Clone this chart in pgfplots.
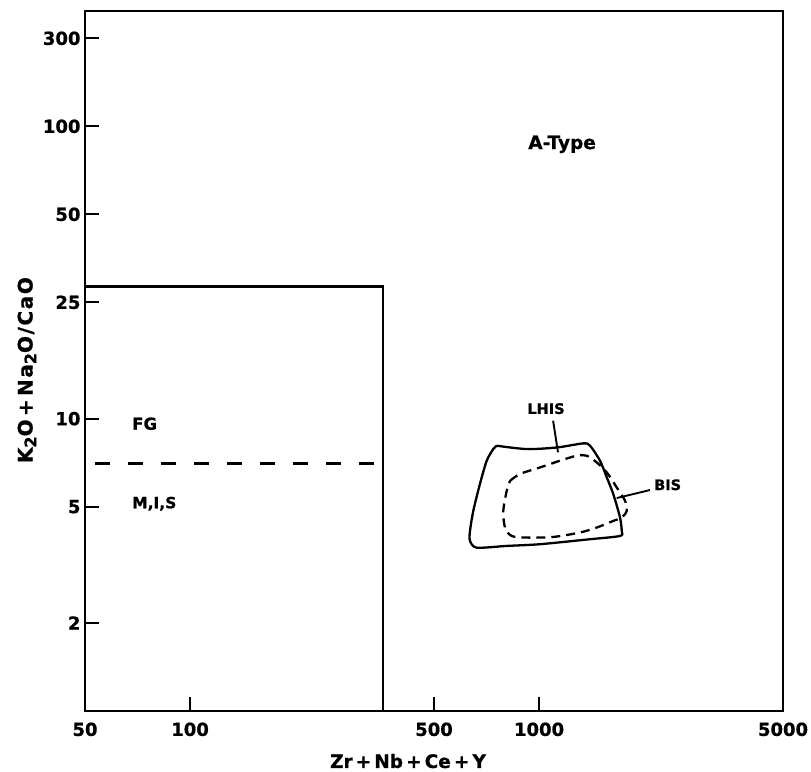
\documentclass[border=0pt]{standalone}
\usepackage{pgfplots}
\pgfplotsset{compat=1.18}
\usepackage{fontspec}
\setmainfont{DejaVu Sans}[BoldFeatures={FakeBold=0.8}]
\newcommand\sub[1]{\raisebox{-0.35ex}{\fontsize{16}{16}\selectfont #1}}
\begin{document}
\begin{tikzpicture}
\begin{axis}[
  scale only axis, width=698pt, height=700pt,
  xmode=log, ymode=log,
  xmin=50, xmax=5000, ymin=1, ymax=248,
  axis line style={line width=2.6pt},
  tick style={line width=2.2pt, black},
  major tick length=14pt,
  xtick pos=bottom, ytick pos=left,
  xminorticks=false, yminorticks=false,
  xtick={50,100,500,1000,5000}, xticklabels={50,100,500,1000,5000},
  ytick={2,5,10,25,50,100,200}, yticklabels={2,5,10,25,50,100,300},
  /pgf/number format/assume math mode=true,
  ticklabel style={font=\fontsize{18}{18}\selectfont\bfseries},
  xticklabel style={yshift=-8pt},
  yticklabel style={xshift=-1pt},
  xlabel={Zr\,+\,Nb\,+\,Ce\,+\,Y},
  xlabel style={at={(axis description cs:0.4628,-0.0715)}, anchor=center, inner sep=0pt,
    font=\fontsize{18.5}{18.5}\selectfont\bfseries},
  ylabel={\addfontfeatures{LetterSpace=8}K\sub{2}O\,+\,Na\sub{2}O/CaO},
  ylabel style={at={(axis description cs:-0.0831,0.487)}, anchor=center, inner sep=0pt,
    font=\fontsize{20}{20}\selectfont\bfseries},
  clip=false,
]
% field boundaries
\addplot[line width=2.4pt, sharp plot] coordinates {(50,28.3) (357,28.3) (357,1)};
\addplot[line width=2.4pt, dash pattern=on 15pt off 18pt, dash phase=23pt] coordinates {(50,7.03) (357,7.03)};
% LHIS field (solid)
\addplot[line width=2.3pt, smooth, tension=0.45] coordinates {
 (756,8.08) (922,7.87) (1124,7.97) (1339,8.23) (1400,8.08) (1495,7.18)
 (1563,6.30) (1632,5.52) (1706,4.59) (1725,4.13) (1706,3.97) (1400,3.87)
 (1006,3.72) (808,3.67) (663,3.62) (634,3.82) (634,4.13) (648,4.84)
 (677,5.98) (708,7.18) (739,7.87) (756,8.08)};
% BIS field (dashed)
\addplot[line width=2.3pt, smooth, tension=0.5, dash pattern=on 9pt off 6pt] coordinates {
 (826,6.13) (882,6.47) (1006,6.81) (1148,7.18) (1282,7.47) (1369,7.47)
 (1462,7.09) (1563,6.55) (1669,5.82) (1763,5.24) (1783,4.84) (1725,4.59)
 (1632,4.47) (1462,4.24) (1310,4.08) (1099,3.94) (922,3.92) (835,3.97)
 (799,4.24) (790,4.84) (808,5.67) (826,6.13)};
% leader lines
\addplot[line width=1.9pt] coordinates {(1097,9.84) (1133,7.67)};
\addplot[line width=1.9pt] coordinates {(1669,5.35) (2079,5.70)};
% labels
\node[font=\fontsize{18.5}{18.5}\selectfont\bfseries, inner sep=0pt] at (axis cs:1164,86.8) {A-Type};
\node[font=\fontsize{16.5}{16.5}\selectfont\bfseries, inner sep=0pt, anchor=west] at (axis cs:68.2,9.61) {FG};
\node[font=\fontsize{15.5}{15.5}\selectfont\bfseries, inner sep=0pt, anchor=west] at (axis cs:68.2,5.12) {M,I,S};
\node[font=\fontsize{14.5}{14.5}\selectfont\bfseries, inner sep=0pt] at (axis cs:1047,10.82) {LHIS};
\node[font=\fontsize{14.5}{14.5}\selectfont\bfseries, inner sep=0pt, anchor=west] at (axis cs:2135,5.94) {BIS};
\coordinate (sw) at (rel axis cs:0,0);
\coordinate (ne) at (rel axis cs:1,1);
\end{axis}
\pgfresetboundingbox
\path ([shift={(-85pt,-60pt)}]sw) rectangle ([shift={(28pt,11pt)}]ne);
\end{tikzpicture}
\end{document}
